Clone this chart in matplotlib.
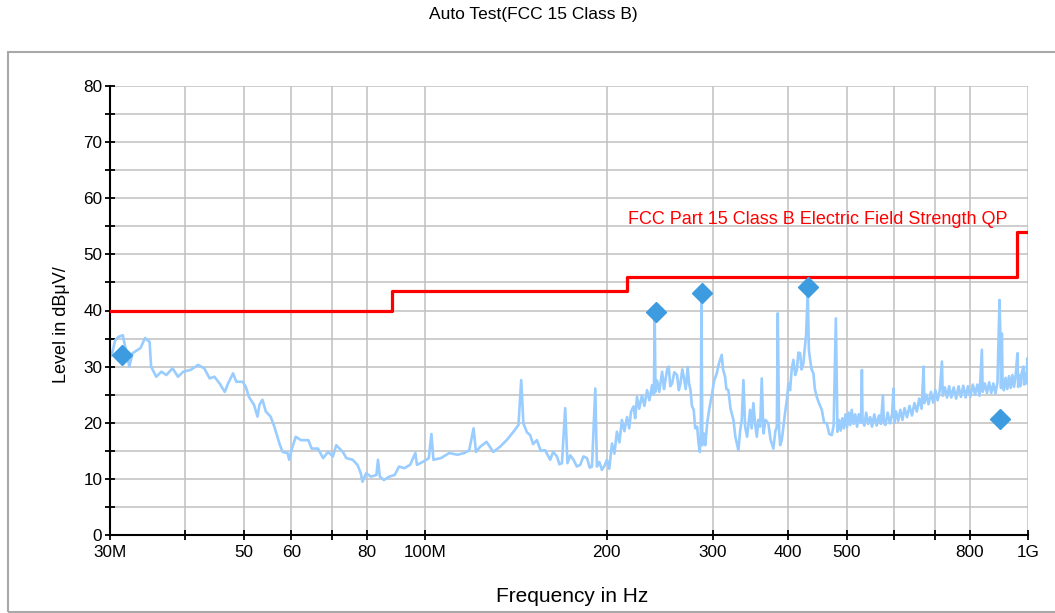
import numpy as np
import matplotlib
matplotlib.use('Agg')
import matplotlib.pyplot as plt
from matplotlib.patches import Rectangle
from matplotlib.ticker import MultipleLocator, NullLocator

plt.rcParams['font.family'] = ['Liberation Sans', 'DejaVu Sans']

lo_freq = [30.0, 30.2, 30.6, 31.0, 31.5, 31.8, 32.3, 32.7, 33.7, 34.3, 34.9, 35.1, 35.8, 36.5, 37.2,
           38.1, 38.9, 39.7, 40.8, 42.0, 43.0, 43.9, 44.7, 45.6, 46.5, 47.1, 48.0, 48.6, 49.8, 50.4,
           51.0, 52.0, 52.7, 53.1, 53.7, 54.4, 55.4, 56.2, 57.3, 58.0, 59.1, 59.5, 60.1, 61.0, 62.2,
           64.0, 64.8, 66.4, 67.7, 69.0, 70.3, 71.2, 73.0, 74.0, 75.8, 77.2, 78.2, 78.7, 79.8, 81.3,
           83.0, 83.5, 84.1, 85.4, 87.2, 89.0, 90.5, 92.3, 94.4, 96.3, 96.9, 99.4, 101.4, 102.4, 103.2,
           106.2, 109.6, 113.2, 116.1, 118.3, 120.3, 121.4, 123.3, 126.4, 129.7, 133.0, 136.5, 140.1, 142.8, 144.3,
           145.5, 147.5, 149.3, 151.0, 153.2, 155.5, 158.1, 161.2, 163.0, 165.4, 167.0, 168.6, 170.7, 172.2, 174.0,
           176.2, 178.5, 180.8, 183.0, 185.5, 187.5, 189.1, 191.5, 192.7, 194.5, 196.4, 198.5]
lo_level = [31.8, 32.1, 34.7, 35.3, 35.6, 33.5, 30.0, 32.4, 33.3, 35.1, 34.4, 30.0, 28.2, 29.1, 28.5,
            29.7, 28.2, 29.1, 29.4, 30.3, 29.7, 27.9, 28.2, 27.0, 25.5, 27.0, 28.8, 27.3, 27.3, 26.4,
            24.6, 23.2, 21.1, 23.2, 24.1, 22.0, 21.1, 19.3, 16.3, 14.8, 14.6, 13.4, 15.4, 17.5, 16.9,
            16.9, 15.4, 15.4, 13.7, 14.8, 14.0, 16.0, 14.8, 13.7, 13.4, 12.5, 11.0, 9.5, 11.0, 10.4,
            10.7, 13.4, 10.4, 9.8, 10.4, 10.7, 12.2, 11.9, 12.5, 14.6, 12.5, 13.1, 13.7, 18.0, 13.4,
            13.7, 14.6, 14.3, 14.6, 15.1, 19.0, 14.8, 15.7, 16.6, 14.8, 15.7, 16.9, 18.4, 19.6, 27.6,
            19.9, 18.3, 17.8, 16.2, 16.9, 15.0, 15.1, 13.4, 14.8, 14.0, 12.6, 12.8, 22.6, 12.8, 14.2,
            13.4, 12.2, 12.5, 14.0, 13.7, 12.0, 12.2, 26.1, 12.2, 13.0, 11.6, 12.4]

# 200-1000 MHz
hi_freq = [200.2, 202.0, 204.1, 206.0, 208.0, 210.0, 212.0, 214.0, 216.2, 218.0, 219.5, 221.7, 223.0, 224.6, 226.5,
           228.9, 231.0, 233.4, 235.5, 237.9, 239.5, 240.3, 241.0, 242.5, 244.5, 247.2, 249.0, 250.3, 252.0, 253.5,
           255.0, 256.8, 259.0, 261.7, 263.5, 265.1, 267.0, 268.5, 270.5, 272.6, 274.0, 275.5, 277.0, 278.9, 280.5,
           282.6, 284.0, 285.4, 286.5, 287.3, 288.2, 289.8, 291.5, 293.6, 296.0, 299.2, 301.5, 304.6, 307.0, 310.4,
           312.0, 314.4, 316.0, 318.4, 321.0, 324.6, 327.0, 330.8, 333.0, 335.1, 337.2, 339.4, 342.0, 345.9, 348.0,
           350.3, 352.5, 354.9, 357.0, 359.4, 361.7, 364.0, 367.0, 370.9, 374.0, 378.1, 381.0, 383.1, 384.5, 386.4,
           388.0, 390.4, 393.0, 395.3, 398.0, 400.5, 403.0, 405.5, 408.1, 411.0, 413.5, 416.0, 418.7, 421.0, 424.0,
           426.0, 428.4, 431.2, 433.0, 435.1, 437.5, 440.6, 443.0, 446.3, 450.0, 454.9, 459.0, 463.7, 468.0, 472.6,
           476.0, 480.0, 483.0, 486.0, 489.0, 492.0, 495.0, 498.0, 501.0, 504.0, 507.0, 510.0, 513.5, 517.0, 520.5,
           524.0, 528.5, 530.2, 531.5, 535.0, 539.0, 543.0, 547.4, 551.0, 556.0, 561.0, 566.0, 570.0, 574.6, 576.5,
           580.0, 585.0, 590.0, 595.0, 598.3, 600.0, 604.0, 609.0, 614.0, 619.0, 624.0, 630.0, 636.0, 642.0, 648.0,
           654.0, 660.0, 666.0, 671.1, 673.0, 678.0, 684.0, 690.0, 696.0, 702.0, 708.0, 714.0, 719.8, 722.0, 728.0,
           734.0, 740.0, 746.0, 753.0, 760.0, 767.0, 774.0, 781.0, 788.0, 795.0, 802.0, 810.0, 817.0, 824.0, 831.0,
           838.5, 841.0, 848.0, 855.0, 862.0, 869.0, 876.0, 883.0, 890.0, 896.9, 899.5, 902.0, 905.0, 907.5, 912.0,
           918.0, 924.0, 930.0, 936.0, 942.0, 948.0, 954.0, 960.6, 963.0, 967.0, 971.0, 976.0, 982.8, 985.0, 989.0,
           993.0, 997.9, 1000.0]
hi_level = [13.4, 11.8, 16.3, 14.5, 18.4, 16.5, 20.5, 18.5, 21.0, 19.0, 22.0, 22.9, 20.8, 24.6, 22.5,
            24.9, 23.0, 25.8, 24.0, 26.7, 25.0, 39.0, 25.5, 27.5, 25.5, 29.1, 26.0, 27.6, 29.5, 30.0,
            26.5, 27.0, 29.0, 28.5, 25.8, 27.0, 29.5, 28.2, 26.0, 29.9, 27.0, 25.8, 23.0, 22.3, 19.0,
            19.3, 16.5, 14.8, 17.5, 42.5, 16.0, 18.1, 16.0, 19.9, 22.5, 25.2, 27.5, 28.8, 30.5, 32.1,
            29.5, 28.2, 26.0, 25.8, 22.5, 20.5, 17.5, 15.1, 18.5, 20.5, 27.6, 19.3, 17.5, 22.3, 19.0,
            23.5, 20.0, 17.5, 20.5, 19.3, 27.9, 18.1, 20.5, 19.9, 17.0, 15.4, 18.5, 19.3, 39.5, 18.7,
            16.0, 16.9, 19.5, 21.7, 24.0, 27.0, 25.8, 29.5, 31.2, 28.5, 29.4, 32.5, 32.4, 29.5, 30.6,
            33.0, 35.6, 43.5, 33.0, 31.2, 29.5, 28.8, 26.0, 24.6, 23.5, 22.3, 20.0, 19.9, 18.0, 17.8,
            19.5, 38.6, 18.4, 20.5, 18.6, 20.8, 19.0, 21.5, 19.2, 21.8, 19.6, 22.3, 19.8, 21.5, 19.3,
            21.5, 20.0, 29.4, 20.5, 19.5, 21.8, 19.8, 21.0, 19.3, 21.5, 19.5, 21.3, 19.8, 24.9, 20.0,
            19.6, 21.8, 19.9, 21.5, 26.1, 20.0, 22.0, 20.3, 22.3, 20.5, 22.6, 21.0, 23.0, 21.3, 23.5,
            22.0, 24.3, 22.5, 30.0, 23.5, 25.0, 23.3, 25.5, 23.6, 25.8, 24.0, 25.8, 30.9, 24.8, 26.3,
            24.5, 26.5, 24.5, 26.3, 24.3, 26.5, 24.6, 26.6, 24.5, 26.5, 24.6, 26.8, 25.0, 26.8, 24.8,
            33.0, 25.5, 27.0, 25.3, 27.2, 25.3, 27.0, 25.2, 27.2, 41.9, 36.0, 26.2, 35.9, 27.0, 25.8,
            28.0, 26.0, 28.3, 26.2, 28.5, 26.4, 28.5, 32.4, 26.4, 28.5, 26.5, 28.8, 30.0, 26.8, 28.8,
            27.0, 31.5, 27.6]

# limit line FCC Part 15 Class B (MHz, dBuV/m)
limit_freq = [30, 88, 216, 960, 1000]
limit_level = [40, 43.5, 46, 54, 54]

# quasi-peak final measurements
qp_freq = [31.4, 241.5, 288.0, 432.0, 899.0]
qp_level = [32.0, 39.7, 43.2, 44.2, 20.7]

xtick_pos = [30, 40, 50, 60, 70, 80, 100, 200, 300, 400, 500, 600, 700, 800, 1000]
xtick_labels = ['30M', '', '50', '60', '', '80', '100M', '200', '300', '400', '500', '', '', '800', '1G']

trace_freq = np.array(lo_freq + hi_freq) * 1e6
trace_level = lo_level + hi_level

fig = plt.figure(figsize=(10.55, 6.13), dpi=100)
ax = fig.add_axes([110 / 1055, 1 - 535 / 613, 918 / 1055, 449 / 613])

ax.plot(trace_freq, trace_level, color='#99ccff', lw=1.9, zorder=2)
ax.step(np.array(limit_freq) * 1e6, limit_level, where='post', color='#ff0000', lw=2.3, zorder=3)
ax.plot(np.array(qp_freq) * 1e6, qp_level, 'D', color='#3d9be0', ms=10.5, zorder=4, clip_on=False)

ax.set_xscale('log')
ax.set_xlim(30e6, 1e9)
ax.set_ylim(0, 80)
ax.set_xticks(np.array(xtick_pos) * 1e6, xtick_labels)
ax.xaxis.set_minor_locator(NullLocator())
ax.set_yticks(range(0, 81, 10))
ax.yaxis.set_minor_locator(MultipleLocator(5))

ax.set_axisbelow(True)
ax.grid(which='both', color='#c0c0c0', lw=1.1)
ax.tick_params(which='both', direction='inout', length=7, width=1.3, colors='black', labelsize=12.3)
ax.tick_params(axis='x', pad=4)
ax.tick_params(axis='y', pad=2)
for s in ['top', 'right']:
    ax.spines[s].set_visible(False)
for s in ['left', 'bottom']:
    ax.spines[s].set_linewidth(1.5)

ax.text(217e6, 56.3, 'FCC Part 15 Class B Electric Field Strength QP', color='#ff0000',
        fontsize=13, ha='left', va='center')

fig.text(572 / 1055, 1 - 596 / 613, 'Frequency in Hz', fontsize=15, ha='center', va='center')
fig.text(62 / 1055, 1 - 325 / 613, 'Level in dBμV/', fontsize=13, ha='center', va='center', rotation=90)
fig.text(533 / 1055, 1 - 15 / 613, 'Auto Test(FCC 15 Class B)', fontsize=12.5, ha='center', va='center')

fig.add_artist(Rectangle((7.5 / 1055, 1 - 611.5 / 613), 1.1, 560 / 613, transform=fig.transFigure,
                         fill=False, edgecolor='#a8a8a8', lw=1.5))

fig.savefig('out.png', dpi=100)
